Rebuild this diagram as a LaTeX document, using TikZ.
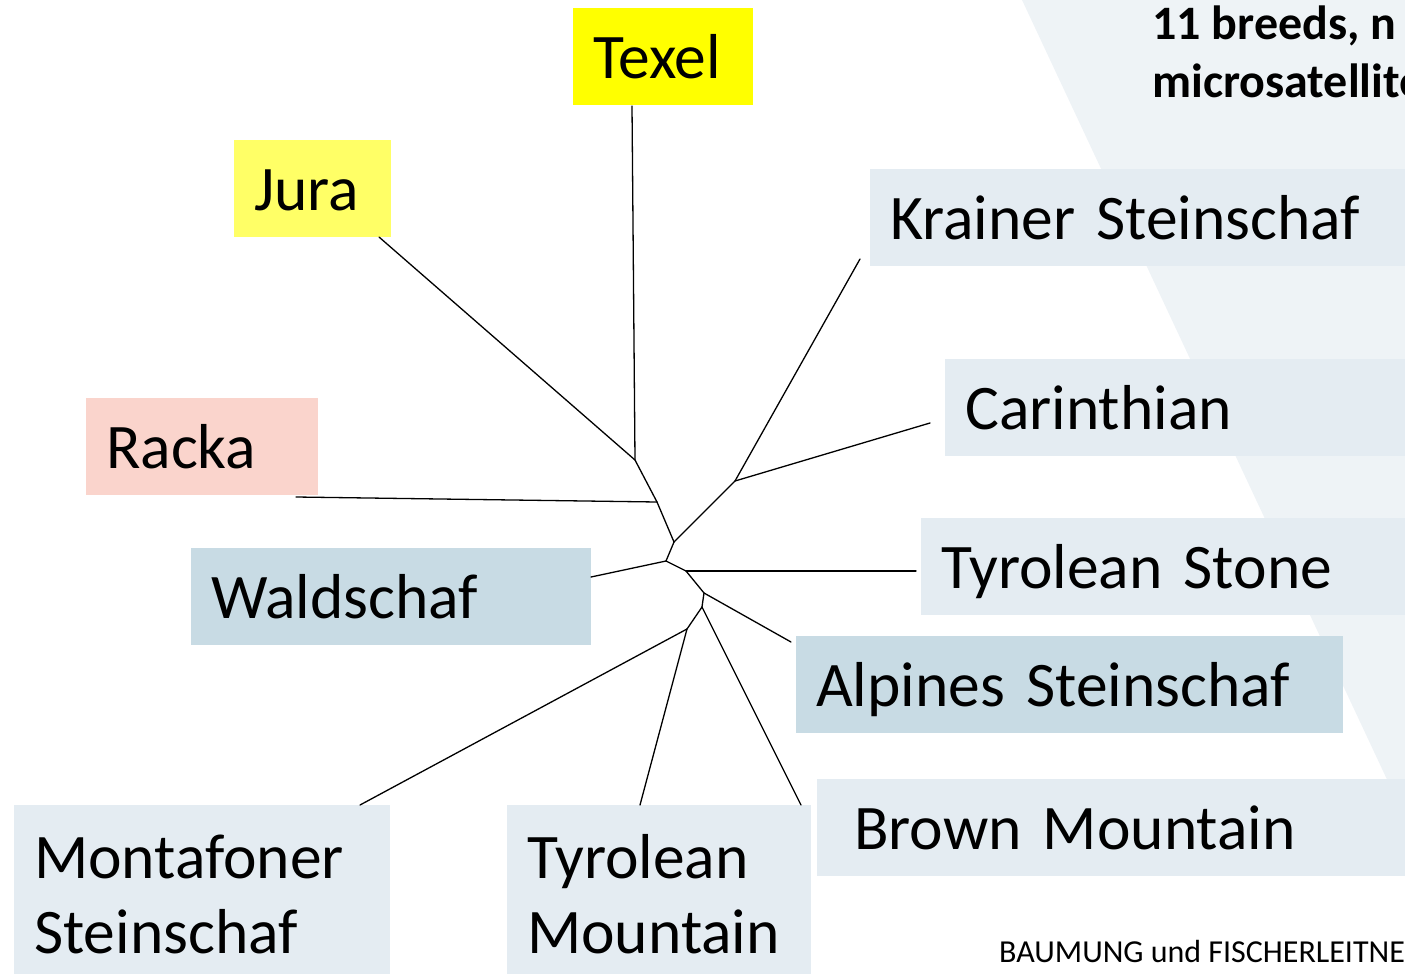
\documentclass[tikz,border=0pt]{standalone}
\usepackage{fontspec}
\setmainfont{Carlito}
\definecolor{bgslab}{RGB}{238,243,246}
\definecolor{boxlight}{RGB}{228,236,242}
\definecolor{boxdark}{RGB}{200,219,228}
\definecolor{texelyel}{RGB}{255,255,0}
\definecolor{jurayel}{RGB}{255,255,102}
\definecolor{rackapink}{RGB}{250,212,204}
\tikzset{
  leaf/.style={rectangle, anchor=north west, inner ysep=0pt, inner xsep=20pt, align=left,
    font=\fontsize{63.5}{75}\selectfont, text height=70pt, text depth=27pt},
  twoline/.style={leaf, text height=73pt, text depth=110pt},
  branch/.style={line width=1.3pt, black, line cap=round, line join=round},
  title/.style={anchor=base west, inner sep=0pt, font=\fontsize{48}{58}\selectfont\bfseries},
  foot/.style={anchor=base west, inner sep=0pt, font=\fontsize{32}{38}\selectfont}
}
\begin{document}
\begin{tikzpicture}[x=1pt,y=-1pt]
\useasboundingbox (0,0) rectangle (1405,974);
\clip (0,0) rectangle (1405,974);
% background slab
\fill[bgslab] (1022,0) -- (1420,0) -- (1420,850) -- cycle;
% title and footer
\node[title] (t1) at (1152,40) {11 breeds, n};
\node[title] (t2) at (1152,97) {microsatellite};
\node[foot] (ft) at (999,962) {BAUMUNG und FISCHERLEITNE};
% leaf boxes
\node[leaf, fill=texelyel, text width=140pt] (texel) at (573,8) {Texel};
\node[leaf, fill=jurayel, text width=117pt] (jura) at (234,140) {Jura};
\node[leaf, fill=rackapink, text width=192pt] (racka) at (86,398) {Racka};
\node[leaf, fill=boxlight, text width=560pt] (krainer) at (870,169) {Krainer Steinschaf};
\node[leaf, fill=boxlight, text width=485pt] (carinthian) at (945,359) {Carinthian};
\node[leaf, fill=boxlight, text width=509pt] (tstone) at (921,518) {Tyrolean Stone};
\node[leaf, fill=boxdark, text width=507pt] (alpines) at (796,636) {Alpines Steinschaf};
\node[leaf, fill=boxlight, inner xsep=37pt, text width=526pt] (brown) at (817,779) {Brown Mountain};
\node[leaf, fill=boxdark, text width=360pt] (waldschaf) at (191,548) {Waldschaf};
\node[twoline, fill=boxlight, text width=336pt] (montafoner) at (14,805) {Montafoner\\Steinschaf};
\node[twoline, fill=boxlight, text width=264pt] (tmount) at (507,805) {Tyrolean\\Mountain};
% tree: internal nodes
\coordinate (A) at (635,460);
\coordinate (B) at (657,502);
\coordinate (C) at (674,542);
\coordinate (D) at (735,481);
\coordinate (E) at (666,561);
\coordinate (F) at (686,571);
\coordinate (G) at (704,593);
\coordinate (H) at (702,607);
\coordinate (I) at (687,629);
% leaf tips
\coordinate (texelT) at (632,106);
\coordinate (juraT) at (379,237);
\coordinate (rackaT) at (296,497);
\coordinate (krainerT) at (860,259);
\coordinate (carinT) at (930,423);
\coordinate (tstoneT) at (916,571);
\coordinate (alpinesT) at (791,642);
\coordinate (brownT) at (801,805);
\coordinate (tmountT) at (640,805);
\coordinate (montT) at (360,805);
\coordinate (waldT) at (591,577);
% branches
\draw[branch] (texelT) -- (A);
\draw[branch] (juraT) -- (A);
\draw[branch] (A) -- (B);
\draw[branch] (rackaT) -- (B);
\draw[branch] (B) -- (C);
\draw[branch] (C) -- (D);
\draw[branch] (D) -- (krainerT);
\draw[branch] (D) -- (carinT);
\draw[branch] (C) -- (E);
\draw[branch] (E) -- (waldT);
\draw[branch] (E) -- (F);
\draw[branch] (F) -- (tstoneT);
\draw[branch] (F) -- (G);
\draw[branch] (G) -- (alpinesT);
\draw[branch] (G) -- (H);
\draw[branch] (H) -- (brownT);
\draw[branch] (H) -- (I);
\draw[branch] (I) -- (tmountT);
\draw[branch] (I) -- (montT);
\end{tikzpicture}
\end{document}
